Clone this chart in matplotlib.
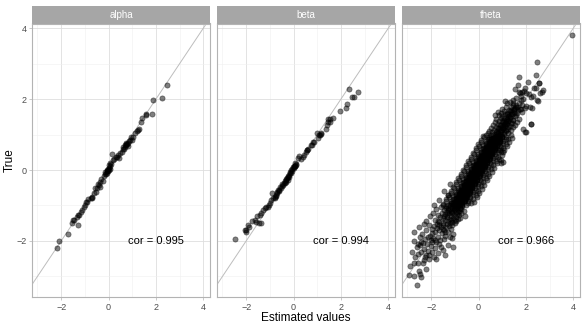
import matplotlib
matplotlib.use('Agg')
import matplotlib.pyplot as plt

plt.rcParams['font.family'] = ['Liberation Sans', 'DejaVu Sans']

facets = ['alpha', 'beta', 'theta']
cor_labels = ['cor = 0.995', 'cor = 0.994', 'cor = 0.966']
x_ticks = [-2, 0, 2, 4]
y_ticks = [-2, 0, 2, 4]
x_label = 'Estimated values'
y_label = 'True'

# (estimated, true) pairs
alpha_pts = [
    (-2.19, -2.21), (-2.10, -2.01), (-1.72, -1.80), (-1.53, -1.50), (-1.49, -1.42), (-1.30, -1.55),
    (-1.46, -1.41), (-1.32, -1.32), (-1.30, -1.27), (-1.25, -1.28), (-1.12, -1.14), (-1.18, -1.17),
    (-1.04, -1.03), (-0.98, -1.00), (-0.97, -0.89), (-0.91, -0.90), (-0.85, -0.82), (-0.76, -0.80),
    (-0.70, -0.78), (-0.69, -0.75), (-0.62, -0.66), (-0.55, -0.61), (-0.57, -0.50), (-0.48, -0.52),
    (-0.41, -0.42), (-0.34, -0.33), (-0.45, -0.40), (-0.38, -0.48), (-0.30, -0.25), (-0.25, -0.30),
    (-0.20, -0.18), (-0.15, -0.12), (-0.13, -0.05), (-0.10, -0.10), (-0.08, -0.09), (-0.06, 0.00),
    (-0.05, -0.03), (-0.02, 0.02), (0.01, 0.14), (0.03, 0.06), (0.05, 0.10), (0.08, 0.20),
    (0.12, 0.18), (0.16, 0.45), (0.20, 0.28), (0.25, 0.30), (0.30, 0.37), (0.35, 0.38),
    (0.40, 0.42), (0.45, 0.35), (0.50, 0.47), (0.55, 0.52), (0.60, 0.60), (0.62, 0.65),
    (0.66, 0.58), (0.70, 0.65), (0.72, 0.72), (0.75, 0.70), (0.78, 0.74), (0.80, 0.76),
    (0.84, 0.68), (0.86, 0.82), (0.90, 0.85), (0.95, 0.92), (1.00, 0.85), (1.04, 0.94),
    (1.10, 1.05), (1.20, 1.10), (1.24, 1.13), (1.28, 1.17), (1.35, 1.36), (1.42, 1.46),
    (1.56, 1.55), (1.56, 1.57), (1.84, 1.57), (1.89, 1.97), (2.24, 2.02), (2.48, 2.39),
    (-0.02, -0.04), (0.00, 0.00), (0.68, 0.70), (0.74, 0.76), (-0.08, -0.02), (0.04, 0.03),
]

beta_pts = [
    (-2.46, -1.94), (-2.06, -1.69), (-1.99, -1.69), (-1.92, -1.55), (-1.88, -1.60), (-1.64, -1.41),
    (-1.57, -1.46), (-1.46, -1.50), (-1.36, -1.48), (-1.40, -1.27), (-1.36, -1.22), (-1.29, -1.13),
    (-1.22, -1.08), (-1.08, -1.03), (-1.01, -0.94), (-1.05, -1.00), (-0.90, -0.64), (-0.95, -0.85),
    (-0.85, -0.80), (-0.80, -0.80), (-0.78, -0.75), (-0.76, -0.72), (-0.70, -0.66), (-0.66, -0.56),
    (-0.62, -0.60), (-0.59, -0.47), (-0.55, -0.50), (-0.50, -0.45), (-0.45, -0.42), (-0.42, -0.38),
    (-0.38, -0.36), (-0.35, -0.30), (-0.31, -0.28), (-0.28, -0.22), (-0.24, -0.19), (-0.20, -0.15),
    (-0.17, -0.09), (-0.14, -0.05), (-0.10, 0.00), (-0.07, 0.03), (-0.03, 0.09), (0.00, 0.05),
    (0.04, 0.19), (0.02, 0.12), (0.06, 0.12), (0.10, 0.18), (0.18, 0.33), (0.25, 0.39),
    (0.30, 0.30), (0.39, 0.37), (0.46, 0.42), (0.53, 0.52), (0.55, 0.55), (0.58, 0.57),
    (0.62, 0.60), (0.74, 0.70), (0.77, 0.70), (0.82, 0.80), (0.86, 0.80), (0.98, 1.05),
    (1.02, 0.89), (1.07, 0.99), (1.10, 0.99), (1.17, 1.01), (1.17, 1.03), (1.38, 1.17),
    (1.42, 1.27), (1.45, 1.36), (1.45, 1.43), (1.52, 1.36), (1.52, 1.43), (1.66, 1.46),
    (1.94, 1.66), (2.22, 1.75), (2.25, 1.85), (2.47, 2.06), (2.53, 2.06), (2.36, 2.29),
    (2.71, 2.20), (-0.72, -0.70), (-0.68, -0.62), (-0.30, -0.25), (-0.25, -0.27), (-0.22, -0.18),
    (-0.12, -0.08), (-0.05, -0.02), (0.01, 0.08), (-0.60, -0.55), (-0.48, -0.40), (-0.33, -0.33),
    (-0.18, -0.20), (0.08, 0.10), (0.12, 0.14), (-1.18, -1.05), (-1.55, -1.30), (-1.75, -1.45),
    (-2.00, -1.75),
]

theta_pts = [
    # lower tail
    (-2.60, -3.24), (-2.92, -2.96), (-2.74, -3.00), (-2.43, -3.02), (-2.46, -2.93), (-2.71, -2.62),
    (-2.57, -2.63), (-2.36, -2.61), (-2.32, -2.54), (-1.79, -2.52), (-2.08, -2.50), (-2.88, -2.70),
    (-2.20, -2.78), (-2.52, -2.85),
    (-2.67, -2.44), (-2.54, -2.38), (-2.43, -2.30), (-2.22, -2.39), (-1.89, -2.46), (-2.74, -1.99),
    (-1.06, -2.16), (-2.30, -2.22), (-2.12, -2.28), (-1.95, -2.31), (-1.72, -2.35), (-2.60, -2.18),
    (-2.48, -2.12), (-2.35, -2.05), (-2.18, -2.10), (-2.02, -2.15), (-1.85, -2.20), (-1.66, -2.08),
    (-1.52, -2.25), (-1.40, -2.40), (-2.80, -2.30), (-2.25, -2.46), (-1.98, -2.04), (-1.78, -2.02),
    (-2.42, -2.02), (-2.10, -2.40), (-1.60, -2.18), (-1.30, -2.12), (-2.56, -2.08),
    (-2.71, -1.74), (-2.50, -1.62), (-2.38, -1.80), (-2.25, -1.95), (-2.20, -1.70), (-2.10, -1.55),
    (-2.05, -1.85), (-1.98, -1.66), (-1.92, -1.92), (-1.88, -1.58), (-1.82, -1.76), (-1.76, -1.52),
    (-1.72, -1.88), (-1.68, -1.68), (-1.62, -1.96), (-1.58, -1.60), (-1.55, -1.78), (-1.50, -1.54),
    (-1.46, -1.70), (-1.42, -1.86), (-1.38, -1.62), (-1.34, -1.52), (-1.30, -1.75), (-1.26, -1.58),
    (-1.22, -1.90), (-1.18, -1.66), (-1.12, -1.56), (-1.06, -1.80), (-2.30, -1.52), (-2.00, -1.98),
    (-1.85, -1.98), (-1.65, -1.55), (-1.45, -1.95), (-1.95, -1.78), (-2.15, -1.88), (-1.75, -1.64),
    (-1.52, -1.66), (-1.40, -1.74), (-1.10, -1.92), (-2.45, -1.90),
    (-2.20, -1.45), (-2.05, -1.30), (-1.94, -1.22), (-1.85, -1.40), (-1.78, -1.10), (-1.70, -1.28),
    (-1.65, -1.46), (-1.60, -1.05), (-1.56, -1.20), (-1.52, -1.36), (-1.48, -1.48), (-1.45, -1.12),
    (-1.42, -1.25), (-1.40, -1.40), (-1.37, -1.02), (-1.35, -1.18), (-1.32, -1.32), (-1.30, -1.45),
    (-1.28, -1.08), (-1.25, -1.22), (-1.22, -1.38), (-1.20, -1.00), (-1.18, -1.15), (-1.16, -1.30),
    (-1.14, -1.46), (-1.12, -1.06), (-1.10, -1.20), (-1.08, -1.35), (-1.05, -1.12), (-1.03, -1.26),
    (-1.01, -1.42), (-0.99, -1.04), (-0.97, -1.18), (-0.95, -1.32), (-0.93, -1.10), (-0.90, -1.24),
    (-0.88, -1.02), (-0.86, -1.38), (-0.84, -1.16), (-0.82, -1.28), (-0.80, -1.06), (-0.76, -1.20),
    (-0.72, -1.10), (-0.68, -1.02), (-0.62, -1.15), (-1.50, -1.00), (-1.62, -1.32), (-1.33, -1.28),
    (-1.15, -1.40), (-1.00, -1.48), (-1.27, -1.14), (-1.07, -1.02), (-0.94, -1.45), (-1.20, -1.48),
    (-1.38, -1.08), (-0.78, -1.34), (-1.90, -1.00), (-1.72, -1.45), (-0.58, -1.30), (-1.46, -1.30),
    # central band
    (-1.49, -0.95), (-1.27, -0.98), (-1.15, -0.94), (-1.05, -0.99), (-0.96, -0.96), (-0.87, -1.00), (-0.78, -0.95), (-0.68, -0.97), (-0.55, -0.99), (-0.33, -0.94),
    (-1.36, -0.88), (-1.17, -0.93), (-1.05, -0.91), (-0.96, -0.89), (-0.87, -0.94), (-0.78, -0.90), (-0.69, -0.93), (-0.58, -0.88), (-0.44, -0.92), (-0.18, -0.89),
    (-1.39, -0.83), (-1.17, -0.86), (-1.05, -0.82), (-0.95, -0.87), (-0.86, -0.84), (-0.77, -0.88), (-0.68, -0.83), (-0.58, -0.85), (-0.45, -0.87), (-0.23, -0.82),
    (-1.26, -0.76), (-1.07, -0.81), (-0.95, -0.79), (-0.86, -0.77), (-0.77, -0.82), (-0.68, -0.78), (-0.59, -0.81), (-0.48, -0.76), (-0.34, -0.80), (-0.08, -0.77),
    (-1.28, -0.71), (-1.06, -0.74), (-0.94, -0.70), (-0.84, -0.75), (-0.75, -0.72), (-0.66, -0.76), (-0.57, -0.71), (-0.47, -0.73), (-0.34, -0.75), (-0.12, -0.70),
    (-1.15, -0.64), (-0.96, -0.69), (-0.84, -0.67), (-0.75, -0.65), (-0.66, -0.70), (-0.57, -0.66), (-0.48, -0.69), (-0.37, -0.64), (-0.23, -0.68), (0.03, -0.65),
    (-1.18, -0.59), (-0.96, -0.62), (-0.84, -0.58), (-0.74, -0.63), (-0.65, -0.60), (-0.56, -0.64), (-0.47, -0.59), (-0.37, -0.61), (-0.24, -0.63), (-0.02, -0.58),
    (-1.04, -0.52), (-0.85, -0.57), (-0.73, -0.55), (-0.64, -0.53), (-0.55, -0.58), (-0.46, -0.54), (-0.37, -0.57), (-0.26, -0.52), (-0.12, -0.56), (0.14, -0.53),
    (-1.07, -0.47), (-0.85, -0.50), (-0.73, -0.46), (-0.63, -0.51), (-0.54, -0.48), (-0.45, -0.52), (-0.36, -0.47), (-0.26, -0.49), (-0.13, -0.51), (0.09, -0.46),
    (-0.94, -0.40), (-0.75, -0.45), (-0.63, -0.43), (-0.54, -0.41), (-0.45, -0.46), (-0.36, -0.42), (-0.27, -0.45), (-0.16, -0.40), (-0.02, -0.44), (0.24, -0.41),
    (-0.97, -0.35), (-0.75, -0.38), (-0.63, -0.34), (-0.53, -0.39), (-0.44, -0.36), (-0.35, -0.40), (-0.26, -0.35), (-0.16, -0.37), (-0.03, -0.39), (0.19, -0.34),
    (-0.83, -0.28), (-0.64, -0.33), (-0.52, -0.31), (-0.43, -0.29), (-0.34, -0.34), (-0.25, -0.30), (-0.16, -0.33), (-0.05, -0.28), (0.09, -0.32), (0.35, -0.29),
    (-0.86, -0.23), (-0.64, -0.26), (-0.52, -0.22), (-0.42, -0.27), (-0.33, -0.24), (-0.24, -0.28), (-0.15, -0.23), (-0.05, -0.25), (0.08, -0.27), (0.30, -0.22),
    (-0.73, -0.16), (-0.54, -0.21), (-0.42, -0.19), (-0.33, -0.17), (-0.24, -0.22), (-0.15, -0.18), (-0.06, -0.21), (0.05, -0.16), (0.19, -0.20), (0.45, -0.17),
    (-0.75, -0.11), (-0.53, -0.14), (-0.41, -0.10), (-0.31, -0.15), (-0.22, -0.12), (-0.13, -0.16), (-0.04, -0.11), (0.06, -0.13), (0.19, -0.15), (0.41, -0.10),
    (-0.62, -0.04), (-0.43, -0.09), (-0.31, -0.07), (-0.22, -0.05), (-0.13, -0.10), (-0.04, -0.06), (0.05, -0.09), (0.16, -0.04), (0.30, -0.08), (0.56, -0.05),
    (-0.65, 0.01), (-0.43, -0.02), (-0.31, 0.02), (-0.21, -0.03), (-0.12, 0.00), (-0.03, -0.04), (0.06, 0.01), (0.16, -0.01), (0.29, -0.03), (0.51, 0.02),
    (-0.52, 0.08), (-0.33, 0.03), (-0.21, 0.05), (-0.12, 0.07), (-0.03, 0.02), (0.06, 0.06), (0.15, 0.03), (0.26, 0.08), (0.40, 0.04), (0.66, 0.07),
    (-0.54, 0.13), (-0.32, 0.10), (-0.20, 0.14), (-0.10, 0.09), (-0.01, 0.12), (0.08, 0.08), (0.17, 0.13), (0.27, 0.11), (0.40, 0.09), (0.62, 0.14),
    (-0.41, 0.20), (-0.22, 0.15), (-0.10, 0.17), (-0.01, 0.19), (0.08, 0.14), (0.17, 0.18), (0.26, 0.15), (0.37, 0.20), (0.51, 0.16), (0.77, 0.19),
    (-0.44, 0.25), (-0.22, 0.22), (-0.10, 0.26), (0.00, 0.21), (0.09, 0.24), (0.18, 0.20), (0.27, 0.25), (0.37, 0.23), (0.50, 0.21), (0.72, 0.26),
    (-0.30, 0.32), (-0.11, 0.27), (0.01, 0.29), (0.10, 0.31), (0.19, 0.26), (0.28, 0.30), (0.37, 0.27), (0.48, 0.32), (0.62, 0.28), (0.88, 0.31),
    (-0.33, 0.37), (-0.11, 0.34), (0.01, 0.38), (0.11, 0.33), (0.20, 0.36), (0.29, 0.32), (0.38, 0.37), (0.48, 0.35), (0.61, 0.33), (0.83, 0.38),
    (-0.20, 0.44), (-0.01, 0.39), (0.11, 0.41), (0.20, 0.43), (0.29, 0.38), (0.38, 0.42), (0.47, 0.39), (0.58, 0.44), (0.72, 0.40), (0.98, 0.43),
    (-0.23, 0.49), (-0.01, 0.46), (0.11, 0.50), (0.21, 0.45), (0.30, 0.48), (0.39, 0.44), (0.48, 0.49), (0.58, 0.47), (0.71, 0.45), (0.93, 0.50),
    (-0.09, 0.56), (0.10, 0.51), (0.22, 0.53), (0.31, 0.55), (0.40, 0.50), (0.49, 0.54), (0.58, 0.51), (0.69, 0.56), (0.83, 0.52), (1.09, 0.55),
    (-0.12, 0.61), (0.10, 0.58), (0.22, 0.62), (0.32, 0.57), (0.41, 0.60), (0.50, 0.56), (0.59, 0.61), (0.69, 0.59), (0.82, 0.57), (1.04, 0.62),
    (0.01, 0.68), (0.20, 0.63), (0.32, 0.65), (0.41, 0.67), (0.50, 0.62), (0.59, 0.66), (0.68, 0.63), (0.79, 0.68), (0.93, 0.64), (1.19, 0.67),
    (-0.02, 0.73), (0.20, 0.70), (0.32, 0.74), (0.42, 0.69), (0.51, 0.72), (0.60, 0.68), (0.69, 0.73), (0.79, 0.71), (0.92, 0.69), (1.14, 0.74),
    (0.12, 0.80), (0.31, 0.75), (0.43, 0.77), (0.52, 0.79), (0.61, 0.74), (0.70, 0.78), (0.79, 0.75), (0.90, 0.80), (1.04, 0.76), (1.30, 0.79),
    (0.09, 0.85), (0.31, 0.82), (0.43, 0.86), (0.53, 0.81), (0.62, 0.84), (0.71, 0.80), (0.80, 0.85), (0.90, 0.83), (1.03, 0.81), (1.25, 0.86),
    (0.22, 0.92), (0.41, 0.87), (0.53, 0.89), (0.62, 0.91), (0.71, 0.86), (0.80, 0.90), (0.89, 0.87), (1.00, 0.92), (1.14, 0.88), (1.40, 0.91),
    (0.20, 0.97), (0.42, 0.94), (0.54, 0.98), (0.64, 0.93), (0.73, 0.96), (0.82, 0.92), (0.91, 0.97), (1.01, 0.95), (1.14, 0.93), (1.36, 0.98),
    # band core
    (-0.93, -0.90), (-0.86, -0.87), (-0.79, -0.92), (-0.71, -0.86), (-0.84, -0.80), (-0.77, -0.77), (-0.70, -0.82), (-0.62, -0.76),
    (-0.76, -0.70), (-0.69, -0.67), (-0.62, -0.72), (-0.54, -0.66), (-0.67, -0.60), (-0.60, -0.57), (-0.53, -0.62), (-0.45, -0.56),
    (-0.58, -0.50), (-0.51, -0.47), (-0.44, -0.52), (-0.36, -0.46), (-0.49, -0.40), (-0.42, -0.37), (-0.35, -0.42), (-0.27, -0.36),
    (-0.40, -0.30), (-0.33, -0.27), (-0.26, -0.32), (-0.18, -0.26), (-0.32, -0.20), (-0.25, -0.17), (-0.18, -0.22), (-0.10, -0.16),
    (-0.23, -0.10), (-0.16, -0.07), (-0.09, -0.12), (-0.01, -0.06), (-0.14, 0.00), (-0.07, 0.03), (0.00, -0.02), (0.08, 0.04),
    (-0.05, 0.10), (0.02, 0.13), (0.09, 0.08), (0.17, 0.14), (0.04, 0.20), (0.11, 0.23), (0.18, 0.18), (0.26, 0.24),
    (0.12, 0.30), (0.19, 0.33), (0.26, 0.28), (0.34, 0.34), (0.21, 0.40), (0.28, 0.43), (0.35, 0.38), (0.43, 0.44),
    (0.30, 0.50), (0.37, 0.53), (0.44, 0.48), (0.52, 0.54), (0.39, 0.60), (0.46, 0.63), (0.53, 0.58), (0.61, 0.64),
    (0.48, 0.70), (0.55, 0.73), (0.62, 0.68), (0.70, 0.74), (0.56, 0.80), (0.63, 0.83), (0.70, 0.78), (0.78, 0.84),
    (0.65, 0.90), (0.72, 0.93), (0.79, 0.88), (0.87, 0.94),
    # densest strip
    (-1.23, -1.12), (-1.11, -1.17), (-0.99, -1.11), (-0.87, -1.18),
    (-1.14, -1.02), (-1.02, -1.07), (-0.90, -1.01), (-0.78, -1.08),
    (-1.06, -0.92), (-0.94, -0.97), (-0.82, -0.91), (-0.70, -0.98),
    (-0.97, -0.82), (-0.85, -0.87), (-0.73, -0.81), (-0.61, -0.88),
    (-0.88, -0.72), (-0.76, -0.77), (-0.64, -0.71), (-0.52, -0.78),
    (-0.79, -0.62), (-0.67, -0.67), (-0.55, -0.61), (-0.43, -0.68),
    (-0.70, -0.52), (-0.58, -0.57), (-0.46, -0.51), (-0.34, -0.58),
    (-0.62, -0.42), (-0.50, -0.47), (-0.38, -0.41), (-0.26, -0.48),
    (-0.53, -0.32), (-0.41, -0.37), (-0.29, -0.31), (-0.17, -0.38),
    (-0.44, -0.22), (-0.32, -0.27), (-0.20, -0.21), (-0.08, -0.28),
    (-0.35, -0.12), (-0.23, -0.17), (-0.11, -0.11), (0.01, -0.18),
    (-0.26, -0.02), (-0.14, -0.07), (-0.02, -0.01), (0.10, -0.08),
    (-0.18, 0.08), (-0.06, 0.03), (0.06, 0.09), (0.18, 0.02),
    (-0.09, 0.18), (0.03, 0.13), (0.15, 0.19), (0.27, 0.12),
    (0.00, 0.28), (0.12, 0.23), (0.24, 0.29), (0.36, 0.22),
    (0.09, 0.38), (0.21, 0.33), (0.33, 0.39), (0.45, 0.32),
    (0.18, 0.48), (0.30, 0.43), (0.42, 0.49), (0.54, 0.42),
    (0.26, 0.58), (0.38, 0.53), (0.50, 0.59), (0.62, 0.52),
    (0.35, 0.68), (0.47, 0.63), (0.59, 0.69), (0.71, 0.62),
    (0.44, 0.78), (0.56, 0.73), (0.68, 0.79), (0.80, 0.72),
    (0.53, 0.88), (0.65, 0.83), (0.77, 0.89), (0.89, 0.82),
    (0.62, 0.98), (0.74, 0.93), (0.86, 0.99), (0.98, 0.92),
    (0.72, 1.08), (0.84, 1.03), (0.96, 1.09), (1.08, 1.02),
    (0.81, 1.18), (0.93, 1.13), (1.05, 1.19), (1.17, 1.12),
    (0.90, 1.28), (1.02, 1.23), (1.14, 1.29), (1.26, 1.22),
    (0.99, 1.38), (1.11, 1.33), (1.23, 1.39), (1.35, 1.32),
    (1.08, 1.48), (1.20, 1.43), (1.32, 1.49), (1.44, 1.42),
    (1.18, 1.58), (1.30, 1.53), (1.42, 1.59), (1.54, 1.52),
    (1.27, 1.68), (1.39, 1.63), (1.51, 1.69), (1.63, 1.62),
    (1.37, 1.78), (1.49, 1.73), (1.61, 1.79), (1.73, 1.72),
    (1.47, 1.88), (1.59, 1.83), (1.71, 1.89), (1.83, 1.82),
    # scattered in the middle
    (-1.65, -0.85), (-1.30, -0.70), (-1.45, -0.60), (-1.20, -0.40), (0.96, 0.19), (1.03, 0.23),
    (0.96, 0.28), (1.03, 0.52), (0.89, 0.56), (0.33, 0.99),
    # upper part
    (0.38, 1.03), (0.58, 1.06), (0.72, 1.02), (0.84, 1.05), (0.96, 1.01), (1.08, 1.07), (1.25, 1.04), (2.02, 1.08),
    (0.45, 1.11), (0.65, 1.14), (0.78, 1.10), (0.90, 1.13), (1.02, 1.15), (1.15, 1.09), (1.35, 1.12), (1.88, 1.17),
    (0.52, 1.19), (0.72, 1.22), (0.86, 1.18), (0.98, 1.21), (1.10, 1.23), (1.24, 1.17), (1.44, 1.20), (1.96, 1.08),
    (0.60, 1.27), (0.80, 1.30), (0.94, 1.26), (1.06, 1.29), (1.18, 1.31), (1.32, 1.25), (1.54, 1.28), (2.20, 1.31),
    (0.68, 1.35), (0.88, 1.38), (1.02, 1.34), (1.14, 1.37), (1.26, 1.39), (1.40, 1.33), (1.62, 1.36),
    (0.75, 1.43), (0.95, 1.46), (1.09, 1.42), (1.21, 1.45), (1.33, 1.47), (1.47, 1.41), (1.70, 1.44), (2.23, 1.30),
    (0.70, 1.54), (0.88, 1.56), (1.00, 1.52), (1.12, 1.57), (1.24, 1.53), (1.38, 1.58), (1.60, 1.55),
    (0.80, 1.63), (0.95, 1.61), (1.08, 1.65), (1.20, 1.62), (1.34, 1.66), (1.50, 1.60), (1.85, 1.64),
    (1.53, 1.74), (1.67, 1.69), (1.81, 1.71), (1.95, 1.74), (2.27, 1.74), (1.60, 1.77), (2.16, 1.78),
    (2.02, 1.80), (1.45, 1.83), (1.20, 1.88), (1.31, 1.92), (2.51, 1.94), (1.00, 1.72), (1.15, 1.78),
    (1.35, 1.70), (1.10, 1.95), (1.47, 1.97), (1.77, 1.97), (1.88, 1.99), (2.47, 1.97),
    (1.60, 2.02), (1.69, 2.63), (2.42, 2.67), (2.08, 2.49), (1.67, 2.39), (2.56, 2.44), (2.33, 2.30),
    (2.44, 2.30), (1.53, 2.27), (1.84, 2.21), (1.91, 2.23), (2.66, 2.21), (2.70, 2.25), (1.74, 2.16),
    (2.13, 2.14), (2.23, 2.05), (2.30, 2.08), (2.58, 2.16), (2.47, 3.04), (2.54, 2.44), (1.80, 2.10),
    (1.95, 2.30), (1.70, 2.20), (2.00, 2.18),
    (3.95, 3.80),
]

facet_points = [alpha_pts, beta_pts, theta_pts]

W, H = 586, 330
fig = plt.figure(figsize=(W / 100, H / 100), dpi=100)
fig.patch.set_facecolor('white')

lefts = [32, 217, 402]
pw = 178
ptop, pbot = 23.5, 297
strip_top = 5.5
border_c = '#b3b3b3'

for i, (name, pts, lab) in enumerate(zip(facets, facet_points, cor_labels)):
    ax = fig.add_axes([lefts[i] / W, 1 - pbot / H, pw / W, (pbot - ptop) / H])
    ax.set_xlim(-3.23, 4.28)
    ax.set_ylim(-3.58, 4.13)
    ax.set_xticks(x_ticks)
    ax.set_yticks(y_ticks)
    ax.set_xticks([-3, -1, 1, 3], minor=True)
    ax.set_yticks([-3, -1, 1, 3], minor=True)
    ax.grid(which='major', color='#dedede', lw=0.6)
    ax.grid(which='minor', color='#efefef', lw=0.4)
    ax.set_axisbelow(True)
    ax.tick_params(which='minor', length=0)
    ax.tick_params(which='major', length=2.5, color=border_c, width=0.5,
                   labelsize=6.5, labelcolor='#4d4d4d', pad=1.5)
    if i > 0:
        ax.tick_params(axis='y', left=False, labelleft=False)
    for sp in ax.spines.values():
        sp.set_color(border_c)
        sp.set_linewidth(0.8)
    ax.axline((0, 0), slope=1, color='#bdbdbd', lw=0.7, zorder=1)
    xs = [p[0] for p in pts]
    ys = [p[1] for p in pts]
    ax.scatter(xs, ys, s=14, c='black', alpha=0.5, edgecolors='black',
               linewidths=0.5, zorder=2)
    ax.text(2, -2, lab, ha='center', va='center', fontsize=8, color='black', zorder=3)

    sax = fig.add_axes([lefts[i] / W, 1 - ptop / H, pw / W, (ptop - strip_top) / H])
    sax.set_facecolor('#a6a6a6')
    sax.set_xticks([])
    sax.set_yticks([])
    for sp in sax.spines.values():
        sp.set_visible(False)
    sax.text(0.5, 0.5, name, ha='center', va='center', color='white', fontsize=7,
             transform=sax.transAxes)

fig.text(306 / W, 1 - 318 / H, x_label, ha='center', va='center', fontsize=8.5)
fig.text(10 / W, 1 - 160 / H, y_label, ha='center', va='center', rotation=90, fontsize=8.5)

fig.savefig('out.png', dpi=100)
